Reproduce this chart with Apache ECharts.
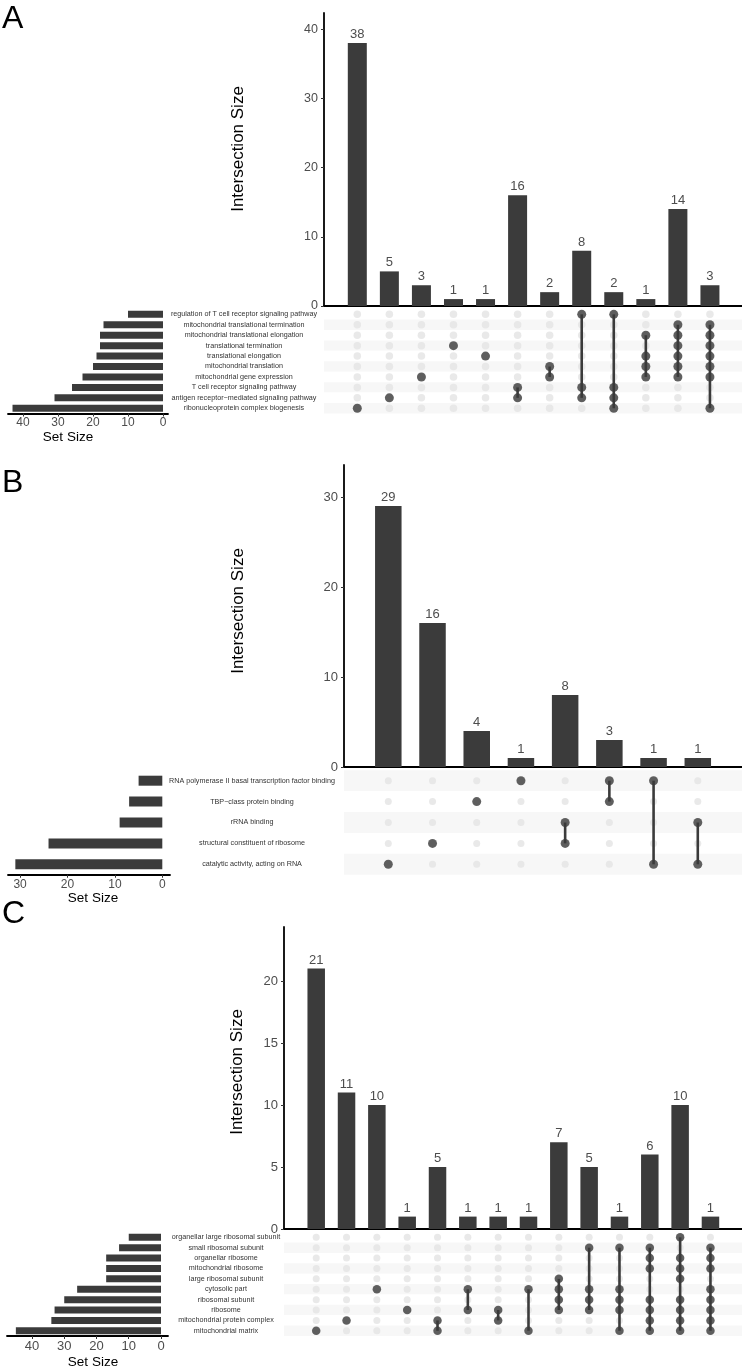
<!DOCTYPE html>
<html>
<head>
<meta charset="utf-8">
<script src="https://cdn.jsdelivr.net/npm/echarts@6/dist/echarts.min.js"></script>
<style>
  html, body { margin: 0; padding: 0; background: #fff; }
  #main { width: 742px; height: 1370px; }
</style>
</head>
<body>
<div id="main"></div>
<script>
// ---- panel A : GO biological process ----
const setsA = ['regulation of T cell receptor signaling pathway', 'mitochondrial translational termination',
  'mitochondrial translational elongation', 'translational termination', 'translational elongation',
  'mitochondrial translation', 'mitochondrial gene expression', 'T cell receptor signaling pathway',
  'antigen receptor\u2212mediated signaling pathway', 'ribonucleoprotein complex biogenesis'];
const setSizeA = [10, 17, 18, 18, 19, 20, 23, 26, 31, 43];
const interA = [38, 5, 3, 1, 1, 16, 2, 8, 2, 1, 14, 3];
// rows (index into setsA) that belong to each intersection column
const combosA = [[9], [8], [6], [3], [4], [7, 8], [5, 6], [0, 7, 8], [0, 7, 8, 9], [2, 4, 5, 6],
  [1, 2, 3, 4, 5, 6], [1, 2, 3, 4, 5, 6, 9]];
const yTicksA = [0, 10, 20, 30, 40];
const ssTicksA = [0, 10, 20, 30, 40];

// ---- panel B : GO molecular function ----
const setsB = ['RNA polymerase II basal transcription factor binding', 'TBP\u2212class protein binding',
  'rRNA binding', 'structural constituent of ribosome', 'catalytic activity, acting on RNA'];
const setSizeB = [5, 7, 9, 24, 31];
const interB = [29, 16, 4, 1, 8, 3, 1, 1];
const combosB = [[4], [3], [1], [0], [2, 3], [0, 1], [0, 4], [2, 4]];
const yTicksB = [0, 10, 20, 30];
const ssTicksB = [0, 10, 20, 30];

// ---- panel C : GO cellular component ----
const setsC = ['organellar large ribosomal subunit', 'small ribosomal subunit', 'organellar ribosome',
  'mitochondrial ribosome', 'large ribosomal subunit', 'cytosolic part', 'ribosomal subunit', 'ribosome',
  'mitochondrial protein complex', 'mitochondrial matrix'];
const setSizeC = [10, 13, 17, 17, 17, 26, 30, 33, 34, 45];
const interC = [21, 11, 10, 1, 5, 1, 1, 1, 7, 5, 1, 6, 10, 1];
const combosC = [[9], [8], [5], [7], [8, 9], [5, 7], [7, 8], [5, 9], [4, 5, 6, 7], [1, 5, 6, 7],
  [1, 5, 6, 7, 9], [1, 2, 3, 6, 7, 8, 9], [0, 2, 3, 4, 6, 7, 8, 9], [1, 2, 3, 5, 6, 7, 8, 9]];
const yTicksC = [0, 5, 10, 15, 20];
const ssTicksC = [0, 10, 20, 30, 40];

// layout (pixels) for each panel
const layoutA = {letterY: 19, barLeft: 324, barTop: 13, barY0: 306, yMax: 42.34, xMin: -1.039, xMax: 12.0,
  barW: 19, mTop: 309.1, mH: 104.4, labelX: 244, ssLeft: 8, ss0: 163, ssMax: 44.29, ssLineRight: 168,
  ssBarW: 7, dotF: 9, dotE: 7.5, titleX: 238, titleY: 149, ssTitleX: 68, ssTitleY: 437, ssMargin: 3,
  tickFont: 12.5, barFont: 13, ssFont: 12};
const layoutB = {letterY: 483, barLeft: 344, barTop: 465, barY0: 767, yMax: 33.56, xMin: -1.002, xMax: 8.0,
  barW: 26.5, mTop: 770.25, mH: 104.5, labelX: 252, ssLeft: 8, ss0: 162.3, ssMax: 32.55, ssLineRight: 170,
  ssBarW: 10, dotF: 9, dotE: 7, titleX: 238, titleY: 611, ssTitleX: 93, ssTitleY: 898, ssMargin: 4,
  tickFont: 13, barFont: 13, ssFont: 12};
const layoutC = {letterY: 914, barLeft: 284, barTop: 927, barY0: 1229, yMax: 24.35, xMin: -1.062, xMax: 14.04,
  barW: 17.5, mTop: 1232.1, mH: 103.9, labelX: 226, ssLeft: 7, ss0: 161, ssMax: 47.75, ssLineRight: 168,
  ssBarW: 7, dotF: 8.5, dotE: 7, titleX: 237, titleY: 1072, ssTitleX: 93, ssTitleY: 1362, ssMargin: 4,
  tickFont: 13, barFont: 13, ssFont: 13};

const FONT = '"Liberation Sans", Arial, sans-serif';
const DARK = '#3b3b3b';
const EMPTY = '#e3e3e3';
const SHADE = '#f7f7f7';
const W = 742;

const grid = [], xAxis = [], yAxis = [], series = [], graphic = [];
function addGrid(g) { grid.push(Object.assign({containLabel: false, outerBoundsMode: 'none'}, g)); return grid.length - 1; }
function addX(a) { xAxis.push(a); return xAxis.length - 1; }
function addY(a) { yAxis.push(a); return yAxis.length - 1; }

function addPanel(letter, sets, sizes, inter, combos, yTicks, ssTicks, L) {
  const n = sets.length;

  // intersection size bars
  const g0 = addGrid({left: L.barLeft, top: L.barTop, width: W - L.barLeft, height: L.barY0 - L.barTop});
  const x0 = addX({gridIndex: g0, type: 'value', min: L.xMin, max: L.xMax,
    axisLine: {show: true, onZero: false, lineStyle: {color: '#000', width: 1.8}},
    axisTick: {show: false}, axisLabel: {show: false}, splitLine: {show: false}});
  const y0 = addY({gridIndex: g0, type: 'value', min: 0, max: L.yMax,
    axisLine: {show: true, onZero: false, lineStyle: {color: '#000', width: 1.8}},
    axisTick: {show: true, length: 3, customValues: yTicks, lineStyle: {color: '#333'}},
    axisLabel: {customValues: yTicks, margin: 6, fontSize: L.tickFont, color: '#4d4d4d', fontFamily: FONT},
    splitLine: {show: false}});
  series.push({type: 'bar', xAxisIndex: x0, yAxisIndex: y0, barWidth: L.barW,
    data: inter.map((v, i) => [i, v]), itemStyle: {color: DARK},
    label: {show: true, position: 'top', distance: 2, fontSize: L.barFont, color: '#4d4d4d',
      fontFamily: FONT, formatter: p => p.value[1]}});

  // dot matrix
  const g1 = addGrid({left: L.barLeft, top: L.mTop, width: W - L.barLeft, height: L.mH});
  const x1 = addX({gridIndex: g1, type: 'value', min: L.xMin, max: L.xMax, show: false});
  addY({gridIndex: g1, type: 'category', data: sets, inverse: true, boundaryGap: true,
    axisLine: {show: false}, axisTick: {show: false},
    axisLabel: {interval: 0, margin: L.barLeft - L.labelX, align: 'center', fontSize: 7.2,
      color: '#333', fontFamily: FONT},
    splitLine: {show: false},
    splitArea: {show: true, interval: 0, areaStyle: {color: n % 2 === 0 ? ['#ffffff', SHADE] : [SHADE, '#ffffff']}}});
  const yv = addY({gridIndex: g1, type: 'value', min: -0.5, max: n - 0.5, inverse: true, show: false});

  const empty = [];
  combos.forEach((rows, c) => { for (let r = 0; r < n; r++) empty.push([c, r]); });
  series.push({type: 'scatter', xAxisIndex: x1, yAxisIndex: yv, data: empty, symbolSize: L.dotE,
    itemStyle: {color: EMPTY}, silent: true, z: 2});
  const links = combos.map((rows, c) => [c, Math.min(...rows), Math.max(...rows)]).filter(v => v[1] !== v[2]);
  series.push({type: 'custom', xAxisIndex: x1, yAxisIndex: yv, data: links, silent: true, z: 3,
    renderItem: (params, api) => {
      const a = api.coord([api.value(0), api.value(1)]);
      const b = api.coord([api.value(0), api.value(2)]);
      return {type: 'line', shape: {x1: a[0], y1: a[1], x2: b[0], y2: b[1]},
        style: {stroke: DARK, lineWidth: 2.6}};
    }});
  series.push({type: 'scatter', xAxisIndex: x1, yAxisIndex: yv, symbolSize: L.dotF, z: 4,
    data: combos.flatMap((rows, c) => rows.map(r => [c, r])), itemStyle: {color: DARK}, silent: true});

  // set size bars
  const g2 = addGrid({left: L.ssLeft, top: L.mTop, width: L.ss0 - L.ssLeft, height: L.mH});
  const x2 = addX({gridIndex: g2, type: 'value', inverse: true, min: 0, max: L.ssMax,
    axisLine: {show: false},
    axisTick: {show: true, length: 3, customValues: ssTicks, lineStyle: {color: '#333'}},
    axisLabel: {customValues: ssTicks, margin: L.ssMargin, fontSize: L.ssFont, color: '#4d4d4d', fontFamily: FONT},
    splitLine: {show: false}});
  const y2 = addY({gridIndex: g2, type: 'category', data: sets, inverse: true, show: false});
  series.push({type: 'bar', xAxisIndex: x2, yAxisIndex: y2, data: sizes, barWidth: L.ssBarW,
    itemStyle: {color: DARK}, silent: true});

  // set size axis line (ggplot expands it a little past 0)
  const g3 = addGrid({left: L.ssLeft, top: L.mTop, width: L.ssLineRight - L.ssLeft, height: L.mH});
  addX({gridIndex: g3, type: 'value', min: 0, max: 1,
    axisLine: {show: true, onZero: false, lineStyle: {color: '#000', width: 1.8}},
    axisTick: {show: false}, axisLabel: {show: false}, splitLine: {show: false}});
  addY({gridIndex: g3, type: 'value', min: 0, max: 1, show: false});

  graphic.push({type: 'text', x: 2, y: L.letterY,
    style: {text: letter, fontSize: 32, fontFamily: FONT, fill: '#000', align: 'left', verticalAlign: 'middle'}});
  graphic.push({type: 'text', x: L.titleX, y: L.titleY, rotation: Math.PI / 2,
    style: {text: 'Intersection Size', fontSize: 17, fontFamily: FONT, fill: '#000', align: 'center', verticalAlign: 'middle'}});
  graphic.push({type: 'text', x: L.ssTitleX, y: L.ssTitleY,
    style: {text: 'Set Size', fontSize: 13.5, fontFamily: FONT, fill: '#000', align: 'center', verticalAlign: 'middle'}});
}

addPanel('A', setsA, setSizeA, interA, combosA, yTicksA, ssTicksA, layoutA);
addPanel('B', setsB, setSizeB, interB, combosB, yTicksB, ssTicksB, layoutB);
addPanel('C', setsC, setSizeC, interC, combosC, yTicksC, ssTicksC, layoutC);

const chart = echarts.init(document.getElementById('main'));
chart.setOption({
  animation: false,
  backgroundColor: '#ffffff',
  grid: grid,
  xAxis: xAxis,
  yAxis: yAxis,
  series: series,
  graphic: graphic
});
</script>
</body>
</html>
